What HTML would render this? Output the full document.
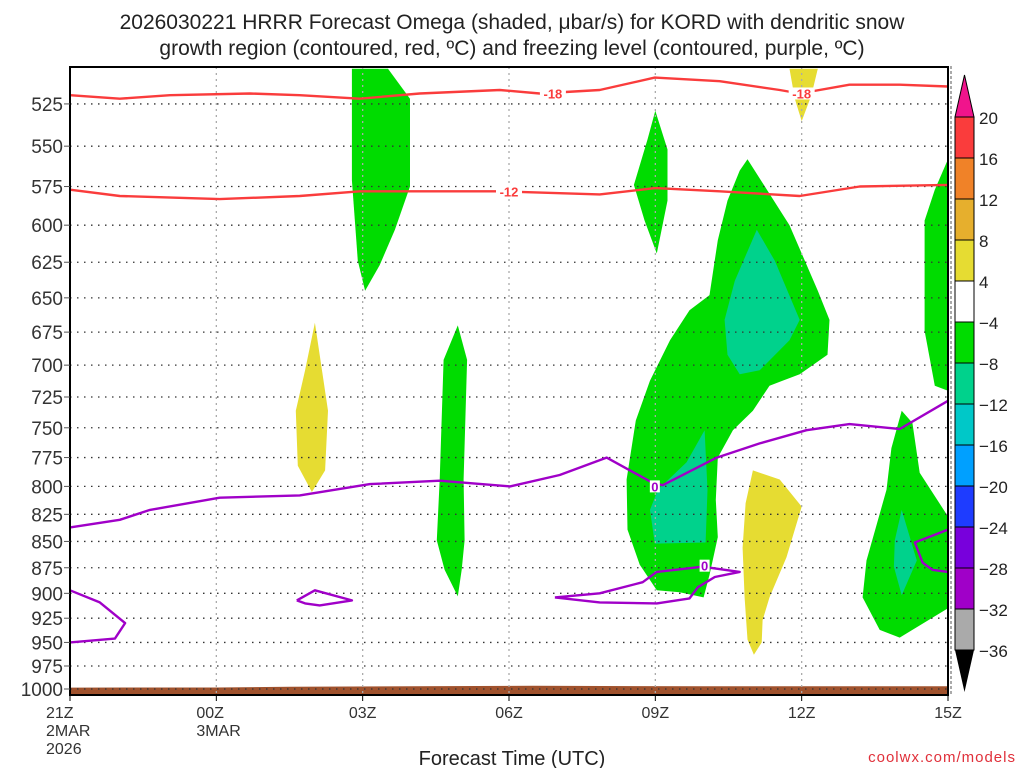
<!DOCTYPE html>
<html><head><meta charset="utf-8"><style>
body{margin:0;background:#fff;width:1024px;height:768px;overflow:hidden}
svg{font-family:"Liberation Sans","DejaVu Sans",sans-serif}
</style></head><body>
<svg id="chart" width="1024" height="768" viewBox="0 0 1024 768">
<g id="shading"></g>
<g id="grid"></g>
<g id="contours"></g>
<g id="axes"></g>
<g id="cbar"></g>
<g font-size="21" fill="#222" text-anchor="middle">
<text x="512" y="29">2026030221 HRRR Forecast Omega (shaded, μbar/s) for KORD with dendritic snow</text>
<text x="512" y="55">growth region (contoured, red, ºC) and freezing level (contoured, purple, ºC)</text>
</g>
<text x="512" y="765" font-size="20" text-anchor="middle" fill="#222">Forecast Time (UTC)</text>
<text x="1016" y="762" font-size="15" text-anchor="end" fill="#e0303a" letter-spacing="1">coolwx.com/models</text>
</svg>
<script>
// data (hours since 21Z 2 Mar, pressure hPa)
const pressureTicks=[525,550,575,600,625,650,675,700,725,750,775,800,825,850,875,900,925,950,975,1000];
const timeTicks=[0,3,6,9,12,15,18];
const timeLabels=[["21Z","2MAR","2026"],["00Z","3MAR"],["03Z"],["06Z"],["09Z"],["12Z"],["15Z"]];
const cbarLevels=[20,16,12,8,4,-4,-8,-12,-16,-20,-24,-28,-32,-36];
const cbarColors=["#fa3c3c","#f08228","#e6af2d","#e6dc32","#ffffff","#00dc00","#00d28c","#00c8c8","#00a0ff","#1e3cff","#7800dc","#a000c8","#aaaaaa"];
const green03=[[5.78,505],[6.52,505],[6.97,522],[6.97,575],[6.66,603],[6.35,627],[6.05,645],[5.90,624],[5.78,571]];
const yellow02=[[5.02,668],[5.29,736],[5.23,786],[4.96,805],[4.67,782],[4.63,736],[4.82,704]];
const green05=[[7.95,670],[8.14,696],[8.07,794],[8.09,849],[8.03,877],[7.95,903],[7.68,877],[7.52,849],[7.58,794],[7.66,696]];
const green09top=[[12.0,529],[12.25,552],[12.25,584],[12.03,619],[11.78,597],[11.56,574],[11.84,546]];
const greenBig=[[13.89,558],[14.75,600],[15.33,645],[15.57,666],[15.53,692],[14.96,707],[14.34,716],[14.0,736],[13.59,752],[13.28,775],[13.24,812],[13.28,846],[13.11,882],[12.99,904],[12.5,899],[12.03,897],[11.68,872],[11.43,839],[11.41,794],[11.6,744],[11.89,712],[12.3,681],[12.7,659],[13.11,648],[13.28,610],[13.48,584],[13.73,565]];
const tealTop=[[14.08,603],[14.45,624],[14.96,666],[14.75,681],[14.14,704],[13.73,707],[13.48,692],[13.42,666],[13.63,638]];
const tealLow=[[13.01,752],[13.07,803],[13.03,851],[11.99,852],[11.89,821],[12.05,803],[12.64,779]];
const yellow11=[[14.0,786],[14.55,794],[15.0,818],[14.69,865],[14.34,904],[14.2,927],[14.18,950],[14.02,963],[13.89,947],[13.83,904],[13.79,856],[13.85,815]];
const greenRB=[[17.05,736],[17.27,746],[17.42,788],[18.0,827],[18.0,915],[17.01,945],[16.6,937],[16.25,904],[16.33,868],[16.74,803],[16.84,767]];
const tealRB=[[17.05,821],[17.36,868],[17.05,902],[16.89,874],[16.91,849]];
const greenRT=[[18,558],[18,720],[17.73,716],[17.52,674],[17.52,597],[17.73,577]];
const yellowTop=[[14.75,505],[15.33,505],[15.2,520],[15.0,535],[14.86,522]];
const redM18=[[0,520],[1.02,522],[2.05,520],[3.69,519],[4.71,520],[5.94,522],[7.17,519],[8.81,517],[9.63,519],[10.86,517],[11.99,510],[13.32,512],[14.55,517],[14.96,519],[15.98,514],[17.01,514],[18,515]];
const redM12=[[0,577],[1.02,581],[3.07,583],[4.71,581],[5.94,578],[8.81,578],[10.86,580],[12.0,576],[13.32,578],[14.96,581],[16.19,575],[18,574]];
const purpleMain=[[0,837],[1.02,830],[1.64,821],[3.07,810],[4.71,808],[6.15,798],[7.58,795],[9.02,800],[10.04,790],[11.0,775],[11.95,797],[12.15,799],[13.26,775],[14.14,763],[15.1,752],[15.98,747],[17.01,751],[18.0,728]];
const purpleLoop=[[9.94,904],[10.86,900],[11.74,889],[12.03,879],[12.97,874],[13.73,879],[13.22,884],[12.87,894],[12.7,905],[12.03,910],[10.86,909],[9.94,904]];
const purpleRight=[[18,839],[17.32,851],[17.48,870],[17.68,877],[18,879]];
const purpleLeft=[[0,897],[0.61,909],[1.13,930],[0.92,946],[0,950]];
const purpleSmall=[[4.65,907],[5.02,897],[5.78,907],[5.12,912],[4.82,910],[4.65,907]];
const contourLabels=[["-18",9.9,519,"#fa3c3c"],["-18",15.0,519,"#fa3c3c"],["-12",9.0,578,"#fa3c3c"],["0",11.99,800,"#a000c8"],["0",13.01,873,"#a000c8"]];
const surfaceP=[[0,998.5],[3,998.3],[4.5,997.5],[9.5,996.5],[13,997],[18,997]];

const X0=70,X1=948,YB=689,K=908;
const x=h=>X0+h*(X1-X0)/18;
const y=p=>YB-K*Math.log(1000/p);
const NS="http://www.w3.org/2000/svg";
function mk(tag,parent,attrs){const e=document.createElementNS(NS,tag);for(const k in attrs)e.setAttribute(k,attrs[k]);parent.appendChild(e);return e;}
const pts=a=>a.map(d=>x(d[0]).toFixed(1)+","+y(d[1]).toFixed(1)).join(" ");
const sh=document.getElementById("shading");
function poly(arr,col,name){const e=mk("polygon",sh,{points:pts(arr),fill:col});

}
poly(green03,"#00dc00","green-region-03z");
poly(yellow02,"#e6dc32","yellow-region-02z");
poly(green05,"#00dc00","green-region-05z");
poly(green09top,"#00dc00","green-region-09z-top");
poly(greenBig,"#00dc00","green-region-10z");
poly(tealTop,"#00d28c","teal-region-11z");
poly(tealLow,"#00d28c","teal-region-09z");
poly(yellow11,"#e6dc32","yellow-region-11z");
poly(greenRB,"#00dc00","green-region-14z");
poly(tealRB,"#00d28c","teal-region-14z");
poly(greenRT,"#00dc00","green-region-15z-top");
poly(yellowTop,"#e6dc32","yellow-region-12z-top");
const surf=[[0,1010]].concat(surfaceP).concat([[18,1010]]);
const se=mk("polygon",sh,{points:pts(surf),fill:"#a0522d"});


mk("rect",sh,{x:0,y:695,width:1024,height:20,fill:"#fff"});
mk("rect",sh,{x:0,y:0,width:1024,height:66,fill:"#fff"});

const g=document.getElementById("grid");
pressureTicks.forEach(p=>{const l=mk("line",g,{x1:X0,x2:X1,y1:y(p),y2:y(p),stroke:"#333","stroke-width":1.3,"stroke-dasharray":"1.5 5.5"});

});
timeTicks.slice(1,6).forEach(h=>{const l=mk("line",g,{x1:x(h),x2:x(h),y1:67,y2:695,stroke:"#aaa","stroke-width":1.3,"stroke-dasharray":"2 4"});

});

const c=document.getElementById("contours");
function line(arr,col,name){const e=mk("polyline",c,{points:pts(arr),fill:"none",stroke:col,"stroke-width":2.4,"stroke-linejoin":"round"});

}
line(redM18,"#fa3c3c","contour-minus18");
line(redM12,"#fa3c3c","contour-minus12");
line(purpleMain,"#a000c8","freezing-level-main");
line(purpleLoop,"#a000c8","freezing-level-loop");
line(purpleRight,"#a000c8","freezing-level-right");
line(purpleLeft,"#a000c8","freezing-level-left");
line(purpleSmall,"#a000c8","freezing-level-small");
contourLabels.forEach(d=>{const cx=x(d[1]),cy=y(d[2]);const w=d[0].length*8+2;
mk("rect",c,{x:cx-w/2,y:cy-6,width:w,height:12,fill:"#fff"});
const t=mk("text",c,{x:cx,y:cy+5,"font-size":13,"font-weight":"bold","text-anchor":"middle",fill:d[3]});t.textContent=d[0];

});

const a=document.getElementById("axes");
mk("line",a,{x1:X0,x2:X1+1,y1:67,y2:67,stroke:"#000","stroke-width":2});
mk("line",a,{x1:X0,x2:X0,y1:66,y2:696,stroke:"#000","stroke-width":2});
mk("line",a,{x1:X1,x2:X1,y1:66,y2:696,stroke:"#000","stroke-width":2});
mk("line",a,{x1:X1+3,x2:X1+3,y1:66,y2:696,stroke:"#555","stroke-width":1,"stroke-dasharray":"3 2"});
mk("line",a,{x1:X0,x2:X1,y1:695,y2:695,stroke:"#000","stroke-width":2});
pressureTicks.forEach(p=>{const t=mk("text",a,{x:63,y:y(p)+7,"font-size":19,"text-anchor":"end",fill:"#333"});t.textContent=p;


mk("line",a,{x1:64,x2:70,y1:y(p),y2:y(p),stroke:"#555"});});
timeTicks.forEach((h,i)=>{mk("line",a,{x1:x(h),x2:x(h),y1:695,y2:701,stroke:"#000"});
timeLabels[i].forEach((s,j)=>{const t=mk("text",a,{x:i==0?X0-24:(i==1?x(h)-20:x(h)),y:718+j*18,"font-size":16,"text-anchor":i<2?"start":"middle",fill:"#333"});t.textContent=s;

});});

const cb=document.getElementById("cbar");
const CX=955,CW=19,top0=117,step=(650-117)/13;
const yc=i=>top0+i*step;
mk("polygon",cb,{points:`${CX},${top0} ${CX+CW},${top0} ${CX+CW/2},75`,fill:"#f0148c",stroke:"#000"});
cbarColors.forEach((col,i)=>{const r=mk("rect",cb,{x:CX,y:yc(i),width:CW,height:step,fill:col,stroke:"#000"});

});
mk("polygon",cb,{points:`${CX},650 ${CX+CW},650 ${CX+CW/2},692`,fill:"#000"});
cbarLevels.forEach((v,i)=>{const t=mk("text",cb,{x:CX+24,y:yc(i)+7,"font-size":17,fill:"#222"});t.textContent=v<0?"−"+(-v):String(v);

});
</script>
</body></html>
